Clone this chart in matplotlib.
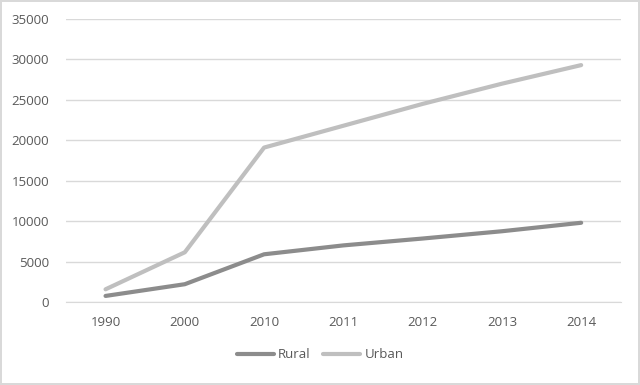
import matplotlib
matplotlib.use("Agg")
import matplotlib.pyplot as plt

# data
years = ["1990", "2000", "2010", "2011", "2012", "2013", "2014"]
rural = [750, 2200, 5900, 7000, 7850, 8750, 9800]
urban = [1570, 6150, 19100, 21800, 24500, 27000, 29300]
y_ticks = [0, 5000, 10000, 15000, 20000, 25000, 30000, 35000]

plt.rcParams['font.family'] = ['Open Sans', 'DejaVu Sans']
text_color = '#595959'

fig = plt.figure(figsize=(6.4, 3.85), dpi=100)
fig.patch.set_edgecolor('#d9d9d9')
fig.patch.set_linewidth(1.5)
ax = fig.add_axes([0.103, 0.2156, 0.867, 0.735])

x = range(len(years))
ax.plot(x, rural, color='#8c8c8c', lw=3, label='Rural', solid_capstyle='round')
ax.plot(x, urban, color='#bfbfbf', lw=3, label='Urban', solid_capstyle='round')

ax.set_xlim(-0.5, len(years) - 0.5)
ax.set_ylim(0, 35000)
ax.set_xticks(list(x))
ax.set_xticklabels(years)
ax.set_yticks(y_ticks)
ax.yaxis.grid(True, color='#d9d9d9', lw=1)
ax.set_axisbelow(True)
for side in ['top', 'right', 'left']:
    ax.spines[side].set_visible(False)
ax.spines['bottom'].set_color('#d9d9d9')
ax.tick_params(axis='both', length=0, labelsize=9.5, colors=text_color)
ax.tick_params(axis='y', pad=12)
ax.tick_params(axis='x', pad=10)

fig.legend(loc='center', bbox_to_anchor=(0.5, 0.078), ncol=2, frameon=False,
           fontsize=9.5, labelcolor=text_color, handlelength=2.8,
           columnspacing=1.0, handletextpad=0.3)

fig.savefig("out.png", dpi=100)
